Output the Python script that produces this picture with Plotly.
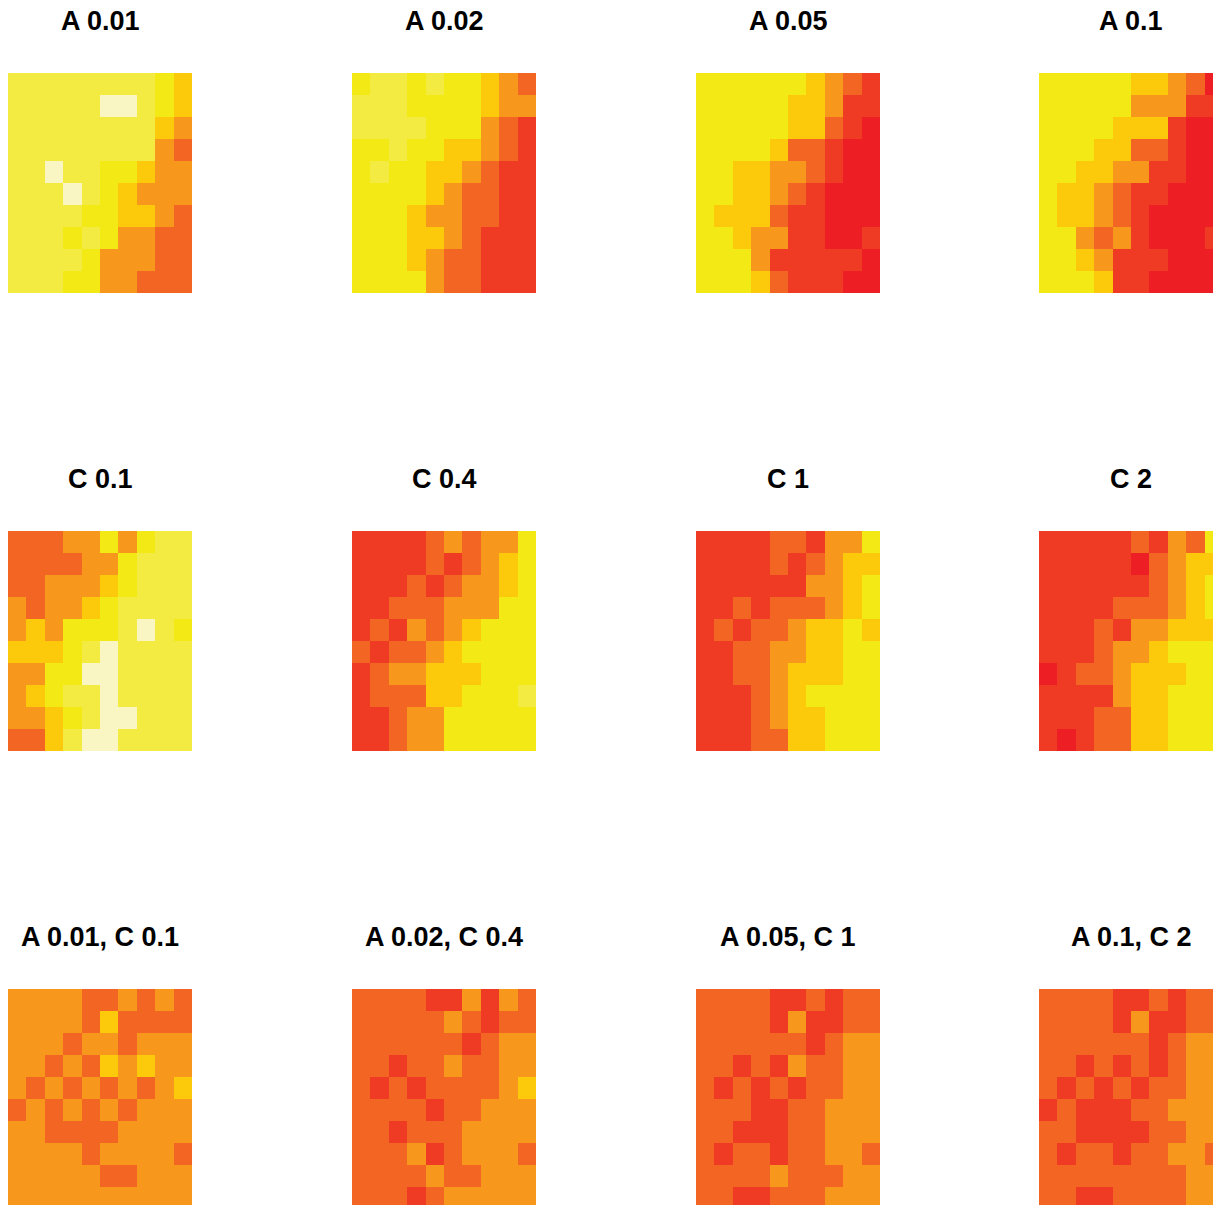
import plotly.graph_objects as go

# Discrete colour levels (0 = lightest ... 7 = darkest red)
level_colors = ["#FAF6C3", "#F3EA42", "#F2E915", "#FDCA0B",
                "#F7981D", "#F26522", "#EF3B24", "#ED1F24"]

titles = ["A 0.01", "A 0.02", "A 0.05", "A 0.1",
          "C 0.1", "C 0.4", "C 1", "C 2",
          "A 0.01, C 0.1", "A 0.02, C 0.4", "A 0.05, C 1", "A 0.1, C 2"]

a_001 = [[1,1,1,1,1,1,1,1,2,3],[1,1,1,1,1,0,0,1,2,3],[1,1,1,1,1,1,1,1,3,4],[1,1,1,1,1,1,1,1,4,5],
         [1,1,0,1,1,2,2,3,4,4],[1,1,1,0,1,2,3,4,4,4],[1,1,1,1,2,2,3,3,4,5],[1,1,1,2,1,2,4,4,5,5],
         [1,1,1,1,2,4,4,4,5,5],[1,1,1,2,2,4,4,5,5,5]]
a_002 = [[2,1,1,2,1,2,2,3,4,5],[1,1,1,2,2,2,2,3,4,4],[1,1,1,1,2,2,2,4,5,6],[2,2,1,2,2,3,3,4,5,6],
         [2,1,2,2,3,3,4,5,6,6],[2,2,2,2,3,4,5,5,6,6],[2,2,2,3,4,4,5,5,6,6],[2,2,2,3,3,4,5,6,6,6],
         [2,2,2,3,4,5,5,6,6,6],[2,2,2,2,4,5,5,6,6,6]]
a_005 = [[2,2,2,2,2,2,3,4,5,6],[2,2,2,2,2,3,3,4,6,6],[2,2,2,2,2,3,3,5,6,7],[2,2,2,2,3,5,5,6,7,7],
         [2,2,3,3,4,4,5,6,7,7],[2,2,3,3,4,5,6,7,7,7],[2,3,3,3,5,6,6,7,7,7],[2,2,3,4,4,6,6,7,7,6],
         [2,2,2,4,6,6,6,6,6,7],[2,2,2,3,5,6,6,6,7,7]]
a_01 = [[2,2,2,2,2,3,3,4,5,7],[2,2,2,2,2,4,4,4,6,6],[2,2,2,2,3,3,3,6,7,7],[2,2,2,3,3,5,5,6,7,7],
        [2,2,3,3,4,4,6,6,7,7],[2,3,3,4,5,6,6,7,7,7],[2,3,3,4,5,6,7,7,7,7],[2,2,4,5,4,6,7,7,7,6],
        [2,2,3,4,6,6,6,7,7,7],[2,2,2,3,6,6,7,7,7,7]]
c_01 = [[5,5,5,4,4,2,4,2,1,1],[5,5,5,5,4,4,2,1,1,1],[5,5,4,4,4,3,2,1,1,1],[4,5,4,4,3,2,1,1,1,1],
        [4,3,4,2,2,2,1,0,1,2],[3,3,3,2,1,0,1,1,1,1],[4,4,2,2,0,0,1,1,1,1],[4,3,2,1,1,0,1,1,1,1],
        [4,4,3,2,1,0,0,1,1,1],[5,5,3,1,0,0,1,1,1,1]]
c_04 = [[6,6,6,6,5,4,5,4,4,2],[6,6,6,6,5,6,5,4,3,2],[6,6,6,5,6,5,4,4,3,2],[6,6,5,5,5,4,4,4,2,2],
        [6,5,6,4,5,4,3,2,2,2],[5,6,5,5,4,3,2,2,2,2],[6,5,4,4,3,3,3,2,2,2],[6,5,5,5,3,3,2,2,2,1],
        [6,6,5,4,4,2,2,2,2,2],[6,6,5,4,4,2,2,2,2,2]]
c_1 = [[6,6,6,6,5,5,6,4,4,2],[6,6,6,6,5,6,5,4,3,3],[6,6,6,6,6,6,4,4,3,2],[6,6,5,6,5,5,5,4,3,2],
       [6,5,6,5,5,4,3,3,2,3],[6,6,5,5,4,4,3,3,2,2],[6,6,5,5,4,3,3,3,2,2],[6,6,6,5,4,3,2,2,2,2],
       [6,6,6,5,4,3,3,2,2,2],[6,6,6,5,5,3,3,2,2,2]]
c_2 = [[6,6,6,6,6,5,6,4,5,2],[6,6,6,6,6,7,5,4,3,3],[6,6,6,6,6,6,5,4,3,2],[6,6,6,6,5,5,5,4,3,2],
       [6,6,6,5,6,4,4,3,3,3],[6,6,6,5,4,4,3,2,2,2],[7,6,5,5,4,3,3,3,2,2],[6,6,6,6,4,3,3,2,2,2],
       [6,6,6,5,5,3,3,2,2,2],[6,7,6,5,5,3,3,2,2,2]]
ac_1 = [[4,4,4,4,5,5,4,5,4,5],[4,4,4,4,5,3,5,5,5,5],[4,4,4,5,4,4,5,4,4,4],[4,4,5,4,5,3,4,3,4,4],
        [4,5,4,5,4,5,4,5,4,3],[5,4,5,4,5,4,5,4,4,4],[4,4,5,5,5,5,4,4,4,4],[4,4,4,4,5,4,4,4,4,5],
        [4,4,4,4,4,5,5,4,4,4],[4,4,4,4,4,4,4,4,4,4]]
ac_2 = [[5,5,5,5,6,6,4,6,4,5],[5,5,5,5,5,4,5,6,5,5],[5,5,5,5,5,5,6,5,4,4],[5,5,6,5,5,4,5,5,4,4],
        [5,6,5,6,5,5,5,5,4,3],[5,5,5,5,6,5,5,4,4,4],[5,5,6,5,5,5,4,4,4,4],[5,5,5,4,6,5,4,4,4,5],
        [5,5,5,5,4,5,5,4,4,4],[5,5,5,6,5,4,4,4,4,4]]
ac_3 = [[5,5,5,5,6,6,5,6,5,5],[5,5,5,5,6,4,6,6,5,5],[5,5,5,5,5,5,6,5,4,4],[5,5,6,5,6,4,5,5,4,4],
        [5,6,5,6,5,6,5,5,4,4],[5,5,5,6,6,5,5,4,4,4],[5,5,6,6,6,5,5,4,4,4],[5,6,5,5,6,5,5,4,4,5],
        [5,5,5,5,4,5,5,5,4,4],[5,5,6,6,5,5,5,4,4,4]]
ac_4 = [[5,5,5,5,6,6,5,6,5,5],[5,5,5,5,6,4,6,6,5,5],[5,5,5,5,5,5,6,5,4,4],[5,5,6,5,6,5,6,5,4,4],
        [5,6,5,6,5,6,5,5,4,4],[6,5,6,6,6,5,5,4,4,4],[5,5,6,6,6,6,5,5,4,4],[5,6,5,5,6,5,5,4,4,5],
        [5,5,5,5,5,5,5,5,4,4],[5,5,6,6,5,5,5,5,4,4]]

panels = [a_001, a_002, a_005, a_01, c_01, c_04, c_1, c_2, ac_1, ac_2, ac_3, ac_4]

W, H = 1213, 1205
col_left = [8, 352, 696, 1039]
row_top = [73, 531, 989]
pw, ph = 184, 220
title_y = [21, 479, 937]

n = len(level_colors) - 1
colorscale = [[i / n, c] for i, c in enumerate(level_colors)]

fig = go.Figure()
annotations = []
for k, z in enumerate(panels):
    r, c = divmod(k, 4)
    x0 = col_left[c]
    x1 = min(x0 + pw, W)
    y0 = row_top[r]
    y1 = min(y0 + ph, H)
    xa = "x" if k == 0 else f"x{k+1}"
    ya = "y" if k == 0 else f"y{k+1}"
    fig.add_trace(go.Heatmap(z=z, colorscale=colorscale, zmin=0, zmax=n,
                             showscale=False, xaxis=xa, yaxis=ya, hoverinfo="z"))
    ncol = len(z[0])
    nrow = len(z)
    cw = pw / ncol
    chh = ph / nrow
    xr = [-0.5, -0.5 + (x1 - x0) / cw]
    yr = [-0.5 + (y1 - y0) / chh, -0.5]
    axname_x = "xaxis" if k == 0 else f"xaxis{k+1}"
    axname_y = "yaxis" if k == 0 else f"yaxis{k+1}"
    fig.update_layout(**{
        axname_x: dict(domain=[x0 / W, x1 / W], range=xr, visible=False,
                       showgrid=False, zeroline=False, anchor=ya),
        axname_y: dict(domain=[1 - y1 / H, 1 - y0 / H], range=yr, visible=False,
                       showgrid=False, zeroline=False, anchor=xa),
    })
    annotations.append(dict(text=f"<b>{titles[k]}</b>", x=(x0 + pw / 2) / W,
                            y=1 - title_y[r] / H, xref="paper", yref="paper",
                            xanchor="center", yanchor="middle", showarrow=False,
                            font=dict(family="Liberation Sans, Arial, sans-serif",
                                      size=27, color="black")))

fig.update_layout(width=W, height=H, margin=dict(l=0, r=0, t=0, b=0),
                  paper_bgcolor="white", plot_bgcolor="white",
                  annotations=annotations, showlegend=False)

fig.write_html("out.html", config={"displayModeBar": False},
               post_script="document.body.style.margin='0';document.body.style.overflow='hidden';")
